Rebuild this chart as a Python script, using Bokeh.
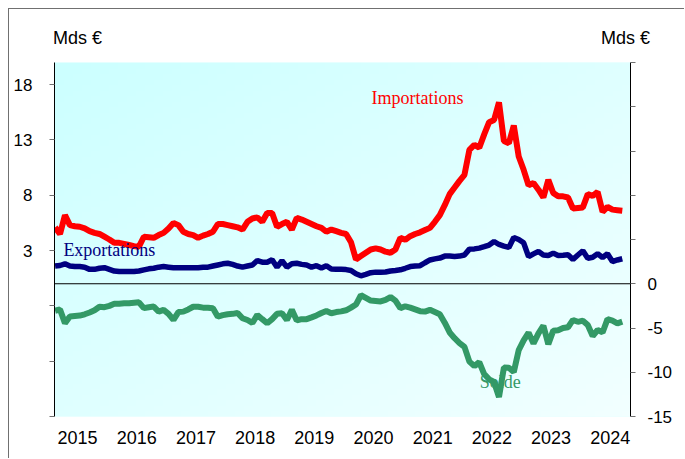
import numpy as np
import pandas as pd
from bokeh.plotting import figure
from bokeh.models import Range1d, LinearAxis, FixedTicker, CustomJSTickFormatter, Span, Label
from bokeh.embed import file_html
from bokeh.resources import INLINE

# Monthly values, Jan 2015 .. Aug 2024 (Mds €)
imports = [
    5.1, 4.5, 6.2, 5.3, 5.2, 5.15, 5.0, 4.75, 4.6, 4.5, 4.25, 4.0,
    3.7, 3.7, 3.6, 3.5, 3.4, 3.35, 4.25, 4.2, 4.15, 4.4, 4.6, 5.0,
    5.5, 5.3, 4.7, 4.5, 4.4, 4.15, 4.35, 4.5, 4.7, 5.4, 5.4, 5.3,
    5.2, 5.1, 4.9, 5.6, 5.9, 6.0, 5.6, 6.4, 6.4, 5.15, 5.4, 5.6,
    4.9, 5.95, 5.8, 5.6, 5.4, 5.2, 5.05, 4.7, 4.9, 4.75, 4.6, 4.5,
    3.75, 2.2, 2.5, 2.8, 3.1, 3.2, 3.1, 2.9, 2.8, 3.1, 4.15, 3.97,
    4.3, 4.5, 4.65, 4.85, 5.05, 5.6, 6.2, 7.1, 8.1, 8.7, 9.3, 9.85,
    12.1, 12.56, 12.3, 13.5, 14.6, 14.8, 16.4, 12.9, 12.7, 14.3, 11.5, 10.3,
    8.9, 9.1, 8.5, 7.8, 9.4, 8.2, 7.9, 7.9, 7.8, 6.8, 6.85, 6.9,
    8.1, 7.95, 8.3, 6.5, 6.95, 6.7, 6.65, 6.6,
]
exports = [
    1.6, 1.65, 1.8, 1.6, 1.55, 1.55, 1.5, 1.3, 1.3, 1.4, 1.45, 1.3,
    1.15, 1.1, 1.1, 1.1, 1.1, 1.15, 1.25, 1.35, 1.4, 1.5, 1.55, 1.5,
    1.45, 1.45, 1.45, 1.45, 1.45, 1.45, 1.5, 1.5, 1.6, 1.7, 1.8, 1.85,
    1.75, 1.6, 1.5, 1.6, 1.7, 2.1, 1.95, 1.95, 2.17, 1.5, 2.08, 1.5,
    1.8, 1.85, 1.75, 1.7, 1.5, 1.63, 1.42, 1.63, 1.33, 1.3, 1.3, 1.28,
    1.2, 0.9, 0.72, 0.85, 1.0, 1.05, 1.05, 1.06, 1.15, 1.2, 1.26, 1.4,
    1.55, 1.6, 1.63, 1.9, 2.15, 2.25, 2.32, 2.5, 2.5, 2.47, 2.5, 2.6,
    3.13, 3.15, 3.22, 3.35, 3.5, 3.82, 3.55, 3.4, 3.28, 4.18, 4.0, 3.7,
    2.45, 2.7, 2.92, 2.6, 2.55, 2.77, 2.55, 2.58, 2.62, 2.2, 2.6, 2.98,
    2.3, 2.4, 2.71, 2.38, 2.71, 2.01, 2.15, 2.26,
]
balance = [
    -3.05, -2.9, -4.45, -3.7, -3.65, -3.6, -3.45, -3.25, -3.0, -2.6, -2.65, -2.5,
    -2.27, -2.25, -2.2, -2.2, -2.15, -2.1, -2.76, -2.65, -2.58, -3.15, -2.95, -3.4,
    -4.09, -3.2, -3.15, -2.9, -2.6, -2.6, -2.7, -2.7, -2.76, -3.72, -3.55, -3.44,
    -3.4, -3.3, -3.9, -4.1, -4.43, -3.52, -4.0, -4.47, -4.0, -3.4, -3.33, -4.09,
    -2.95, -4.15, -4.0, -4.0, -3.8, -3.58, -3.3, -3.07, -3.33, -3.2, -3.12, -3.0,
    -2.7, -2.35, -1.3, -1.6, -1.9, -1.95, -2.0, -1.82, -1.5, -1.9, -2.76, -2.55,
    -2.7, -2.9, -3.1, -3.15, -2.95, -3.2, -3.45, -4.4, -5.5, -6.15, -6.7, -7.13,
    -8.8, -9.3, -8.85, -10.2, -10.8, -11.1, -12.8, -9.47, -9.5, -9.97, -7.5, -6.4,
    -5.53, -6.74, -5.6, -4.74, -6.82, -5.3, -5.25, -5.0, -4.92, -4.09, -4.3, -4.17,
    -4.66, -5.9, -5.23, -5.5, -4.0, -4.17, -4.47, -4.28,
]
year_labels = list(range(2015, 2025))
left_ticks = [-12, -7, -2, 3, 8, 13, 18]
right_ticks = [-15, -10, -5, 0, 5, 10, 15, 20, 25]
unit_label = "Mds €"

months = pd.date_range("2015-01-01", periods=len(imports), freq="MS")
x = np.asarray(months.year + (months.month - 1) / 12.0, dtype=float)

X0, X1 = 2014.99, 2024.722
YL0, YL1 = -12, 20
YR0, YR1 = -15, 25

p = figure(width=676, height=450, output_backend="svg", toolbar_location=None,
           x_range=Range1d(X0, X1), y_range=Range1d(YL0, YL1),
           min_border_left=45, min_border_right=55, min_border_top=53, min_border_bottom=43,
           background_fill_color="#dcffff", border_fill_color="white", outline_line_color=None)
p.margin = (8, 0, 0, 8)
p.styles = {"border-top": "1px solid #707070", "border-left": "1px solid #707070"}
p.extra_y_ranges = {"right": Range1d(YR0, YR1)}
p.xgrid.visible = False
p.ygrid.visible = False

# gradient background
N = 64
u = np.linspace(0, 1, N)
U, V = np.meshgrid(u, u)
t = (U + (1 - V)) / 2
img = np.empty((N, N), dtype=np.uint32)
view = img.view(dtype=np.uint8).reshape((N, N, 4))
view[..., 0] = (204 + 38 * t).astype(np.uint8)
view[..., 1] = 255
view[..., 2] = 255
view[..., 3] = 255
p.image_rgba(image=[img], x=X0, y=YL0, dw=X1 - X0, dh=YL1 - YL0, level="image")

tick_font = "17px"
sans = "Liberation Sans"
# left axis
ya = p.yaxis[0]
ya.ticker = FixedTicker(ticks=left_ticks)
ya.formatter = CustomJSTickFormatter(code="return tick > 0 ? String(tick) : '';")
ya.axis_line_color = "black"
ya.major_tick_out = 5
ya.major_tick_in = 0
ya.minor_tick_line_color = None
ya.major_tick_line_color = "#707070"
ya.major_label_standoff = 17
ya.major_label_text_font = sans
ya.major_label_text_font_size = tick_font
ya.major_label_text_color = "black"

# right axis
ra = LinearAxis(y_range_name="right", ticker=FixedTicker(ticks=right_ticks),
                formatter=CustomJSTickFormatter(code="return tick <= 0 ? String(tick) : '';"))
ra.axis_line_color = "black"
ra.major_tick_out = 5
ra.major_tick_in = 0
ra.minor_tick_line_color = None
ra.major_tick_line_color = "#707070"
ra.major_label_standoff = 12
ra.major_label_text_font = sans
ra.major_label_text_font_size = tick_font
ra.major_label_text_color = "black"
p.add_layout(ra, "right")

# bottom axis (year labels)
xa = p.xaxis[0]
xa.ticker = FixedTicker(ticks=[yr + 0.38 for yr in year_labels])
xa.formatter = CustomJSTickFormatter(code="return Math.floor(tick).toString();")
xa.axis_line_color = None
xa.major_tick_line_color = None
xa.minor_tick_line_color = None
xa.major_label_standoff = 8
xa.major_label_text_font = sans
xa.major_label_text_font_size = "18px"
xa.major_label_text_color = "black"

# top axis carrying the unit labels
ta = LinearAxis(ticker=FixedTicker(ticks=[2015.38, 2024.637]),
                formatter=CustomJSTickFormatter(code="return '%s';" % unit_label))
ta.axis_line_color = None
ta.major_tick_line_color = None
ta.minor_tick_line_color = None
ta.major_label_standoff = 9
ta.major_label_text_font = sans
ta.major_label_text_font_size = "18px"
ta.major_label_text_color = "black"
p.add_layout(ta, "above")

p.add_layout(Span(location=0, dimension="width", line_color="black", line_width=1.2))

p.line(x, imports, line_color="#ff0000", line_width=6)
p.line(x, exports, line_color="#000080", line_width=5.5)
p.line(x, balance, line_color="#339966", line_width=6, y_range_name="right")

serif = "Liberation Serif"
p.add_layout(Label(x=2021.125, y=16.8, text="Importations", text_color="#ff0000",
                   text_font=serif, text_font_size="18px", text_align="center", text_baseline="middle"))
p.add_layout(Label(x=2015.14, y=3.07, text="Exportations", text_color="#000080",
                   text_font=serif, text_font_size="18px", text_align="left", text_baseline="middle"))
p.add_layout(Label(x=2022.52, y=-11.14, y_range_name="right", text="Solde", text_color="#339966",
                   text_font=serif, text_font_size="18px", text_align="center", text_baseline="middle"))

open("out.html", "w").write(file_html(p, INLINE))
